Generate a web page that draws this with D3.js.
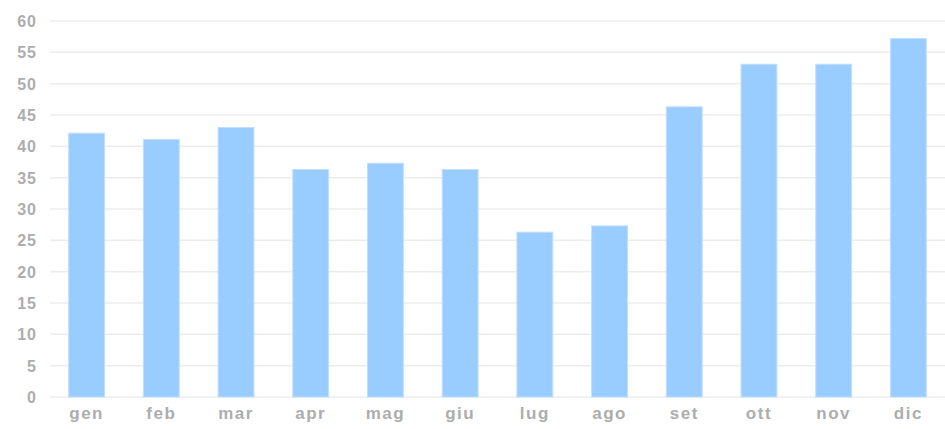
<!DOCTYPE html>
<html>
<head>
<meta charset="utf-8">
<script src="https://cdn.jsdelivr.net/npm/d3@7"></script>
<style>
  html, body { margin: 0; padding: 0; background: #fff; }
  svg text { font-family: "Liberation Sans", Arial, sans-serif; font-weight: bold; fill: #adadad; }
</style>
</head>
<body>
<svg id="chart" width="945" height="429"></svg>
<script>
// Dati
var mesi = ["gen", "feb", "mar", "apr", "mag", "giu", "lug", "ago", "set", "ott", "nov", "dic"];
var valori = [42.1, 41.1, 43.0, 36.3, 37.3, 36.3, 26.3, 27.3, 46.3, 53.1, 53.1, 57.2];
var ticksY = [0, 5, 10, 15, 20, 25, 30, 35, 40, 45, 50, 55, 60];

var margin = { top: 21, right: 0, bottom: 32, left: 50 },
  width = 945 - margin.left - margin.right,
  height = 429 - margin.top - margin.bottom;

var svg = d3.select("#chart")
  .append("g")
  .attr("transform", "translate(" + margin.left + "," + margin.top + ")");

// Scale
var x = d3.scaleBand().domain(mesi).range([0, width]).paddingInner(0.52).paddingOuter(0.25);
var y = d3.scaleLinear().domain([0, 60]).range([height, 0]);

// Griglia
svg.append("g")
  .selectAll("line")
  .data(ticksY)
  .enter()
  .append("line")
  .attr("x1", 0)
  .attr("x2", width)
  .attr("y1", function (d) { return y(d); })
  .attr("y2", function (d) { return y(d); })
  .attr("stroke", "#ececec")
  .attr("stroke-width", 1.5);

// Asse Y
var yAxis = svg.append("g")
  .call(d3.axisLeft(y).tickValues(ticksY).tickSize(0).tickPadding(13));
yAxis.select(".domain").remove();
yAxis.selectAll("text").style("font-size", "16px").style("letter-spacing", "1px").attr("dy", "0.35em");

// Barre
svg.selectAll(".bar")
  .data(valori)
  .enter()
  .append("rect")
  .attr("class", "bar")
  .attr("x", function (d, i) { return x(mesi[i]); })
  .attr("y", function (d) { return y(d); })
  .attr("width", x.bandwidth())
  .attr("height", function (d) { return y(0) - y(d); })
  .attr("fill", "#99ccff")
  .attr("stroke", "#bfdfff")
  .attr("stroke-width", 1);

// Asse X
var xAxis = svg.append("g")
  .attr("transform", "translate(0," + height + ")")
  .call(d3.axisBottom(x).tickSize(0).tickPadding(10));
xAxis.select(".domain").remove();
xAxis.selectAll("text").style("font-size", "17px").style("letter-spacing", "1.5px");
</script>
</body>
</html>
